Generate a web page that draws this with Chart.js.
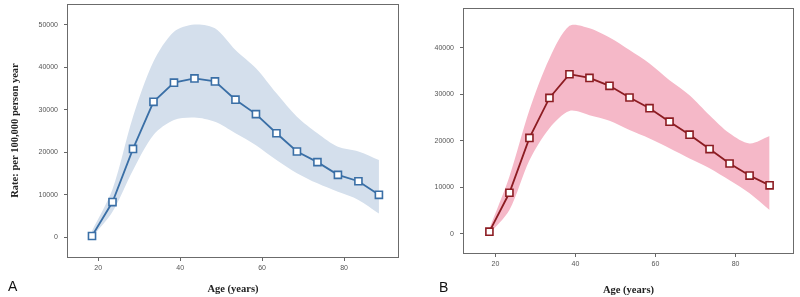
<!DOCTYPE html>
<html>
<head>
<meta charset="utf-8">
<script src="https://cdn.jsdelivr.net/npm/chart.js@4/dist/chart.umd.min.js"></script>
<style>
  body { margin: 0; background: #fff; }
  .panel { position: absolute; top: 0; width: 400px; height: 297px; }
  .tag { position: absolute; font: 14px "Liberation Sans", Arial, sans-serif; color: #111; }
</style>
</head>
<body>
<div class="panel" style="left:0"><canvas id="chartA" width="400" height="297"></canvas></div>
<div class="panel" style="left:400px"><canvas id="chartB" width="400" height="297"></canvas></div>
<div class="tag" style="left:8px; top:278px">A</div>
<div class="tag" style="left:439px; top:279px">B</div>
<script>
const ages = [18.5, 23.5, 28.5, 33.5, 38.5, 43.5, 48.5, 53.5, 58.5, 63.5, 68.5, 73.5, 78.5, 83.5, 88.5];

// panel A (blue)
const rateA = [300, 8300, 20800, 31900, 36400, 37400, 36700, 32400, 29000, 24500, 20200, 17700, 14700, 13200, 10000];
const upperA = [1500, 11300, 28400, 41400, 48400, 50100, 49200, 44100, 39800, 33900, 28400, 24500, 21300, 20200, 18200];
const lowerA = [0, 6000, 15800, 24100, 27600, 28200, 27200, 24500, 21700, 18200, 15100, 12700, 10700, 8800, 5600];

// panel B (red)
const rateB = [430, 8800, 20600, 29200, 34300, 33500, 31800, 29300, 27000, 24100, 21300, 18200, 15100, 12500, 10400];
const upperB = [1100, 12300, 26600, 37700, 44700, 44200, 42200, 39500, 36600, 33000, 29800, 25500, 21600, 19400, 21000];
const lowerB = [0, 5100, 15800, 22700, 26400, 25500, 24300, 22300, 20500, 18400, 16200, 14100, 11500, 8700, 5100];

const xTicks = [20, 40, 60, 80];
const yTicksA = [0, 10000, 20000, 30000, 40000, 50000];
const yTicksB = [0, 10000, 20000, 30000, 40000];

const toPoints = (vals) => vals.map((v, i) => ({ x: ages[i], y: v }));

// box around the plot region, like base R graphics
const boxPlugin = {
  id: "box",
  afterDraw: (chart) => {
    const { ctx, chartArea: a } = chart;
    ctx.save();
    ctx.strokeStyle = "#6b6b6b";
    ctx.lineWidth = 1;
    ctx.strokeRect(Math.round(a.left) + 0.5, Math.round(a.top) + 0.5, Math.round(a.right - a.left) - 1, Math.round(a.bottom - a.top));
    ctx.restore();
  },
};

// fixed scale sizes, no extra label padding
const fixSize = (prop, size) => (scale) => {
  scale[prop] = size;
  scale.paddingTop = 0;
  scale.paddingBottom = 0;
  scale.paddingLeft = 0;
  scale.paddingRight = 0;
};

const makeChart = (id, cfg) => {
  const tickFont = { family: "'Liberation Sans', Arial, sans-serif", size: 7 };
  const titleFont = { family: "'Liberation Serif', 'Times New Roman', serif", size: 10.5, weight: "bold" };
  return new Chart(document.getElementById(id), {
    type: "line",
    data: {
      datasets: [
        {
          data: toPoints(cfg.upper),
          borderWidth: 0,
          pointRadius: 0,
          tension: 0.3,
          backgroundColor: cfg.band,
          fill: "+1",
          order: 2,
        },
        {
          data: toPoints(cfg.lower),
          borderWidth: 0,
          pointRadius: 0,
          tension: 0.3,
          fill: false,
          order: 2,
        },
        {
          data: toPoints(cfg.rate),
          borderColor: cfg.line,
          borderWidth: 1.8,
          pointStyle: "rect",
          pointRadius: 5,
          pointBorderWidth: 1.6,
          pointBorderColor: cfg.line,
          pointBackgroundColor: "#fff",
          fill: false,
          tension: 0,
          order: 1,
        },
      ],
    },
    options: {
      responsive: false,
      animation: false,
      layout: { padding: cfg.padding, autoPadding: false },
      plugins: { legend: { display: false }, tooltip: { enabled: false } },
      scales: {
        x: {
          type: "linear",
          min: cfg.xMin,
          max: cfg.xMax,
          afterBuildTicks: (scale) => { scale.ticks = xTicks.map((v) => ({ value: v })); },
          afterFit: fixSize("height", cfg.xHeight),
          grid: { drawOnChartArea: false, drawTicks: true, tickLength: 4, color: "#666" },
          border: { display: false },
          ticks: { font: tickFont, color: "#555", padding: 3, maxRotation: 0 },
          title: { display: true, text: "Age (years)", font: titleFont, color: "#222", padding: { top: 0, bottom: cfg.xTitlePad } },
        },
        y: {
          min: cfg.yMin,
          max: cfg.yMax,
          afterBuildTicks: (scale) => { scale.ticks = cfg.yTicks.map((v) => ({ value: v })); },
          afterFit: fixSize("width", cfg.yWidth),
          grid: { drawOnChartArea: false, drawTicks: true, tickLength: 3, color: "#666" },
          border: { display: false },
          ticks: { font: tickFont, color: "#555", padding: 6, callback: (v) => String(v) },
          title: { display: cfg.yTitle !== "", text: cfg.yTitle, font: titleFont, color: "#222", padding: { top: 9, bottom: 0 } },
        },
      },
    },
    plugins: [boxPlugin],
  });
};

makeChart("chartA", {
  rate: rateA, upper: upperA, lower: lowerA,
  band: "#d4dfec", line: "#3a6fa6",
  xMin: 12.4, xMax: 93.4, yMin: -4640, yMax: 54930, yTicks: yTicksA,
  padding: { top: 4, right: 1, left: 0, bottom: 0 },
  yWidth: 67, xHeight: 40, xTitlePad: 1,
  yTitle: "Rate: per 100,000 person year",
});

makeChart("chartB", {
  rate: rateB, upper: upperB, lower: lowerB,
  band: "#f5b8c8", line: "#8c1c22",
  xMin: 11.9, xMax: 94.6, yMin: -4150, yMax: 48540, yTicks: yTicksB,
  padding: { top: 8, right: 6, left: 0, bottom: 0 },
  yWidth: 63, xHeight: 44, xTitlePad: 0,
  yTitle: "",
});
</script>
</body>
</html>
